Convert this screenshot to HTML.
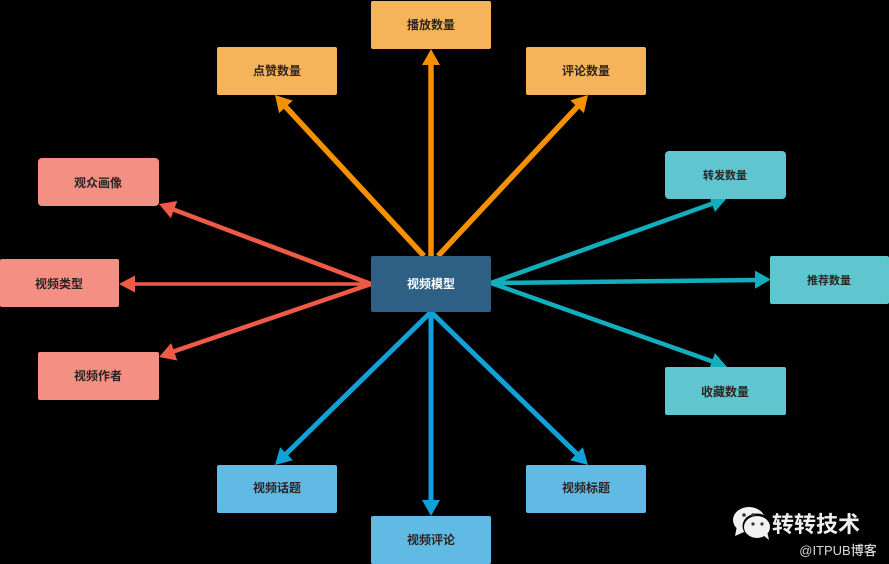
<!DOCTYPE html>
<html><head><meta charset="utf-8"><style>
html,body{margin:0;padding:0;background:#000;width:889px;height:564px;overflow:hidden}
svg{display:block;position:absolute;left:0;top:0;filter:blur(.35px)}
text{font-family:"Liberation Sans","Noto Sans CJK SC",sans-serif;text-anchor:middle;font-size:12px;fill:#2b2320;font-weight:700}
</style></head><body>
<svg width="889" height="564" viewBox="0 0 889 564" xmlns="http://www.w3.org/2000/svg">
<rect width="889" height="564" fill="#000"/>
<!-- orange -->
<g stroke="#f59000" stroke-width="5.5" fill="none">
<line x1="431" y1="256" x2="431" y2="60"/>
<line x1="424" y1="256" x2="284" y2="105"/>
<line x1="438" y1="256" x2="579" y2="105"/>
</g>
<g fill="#f59000">
<polygon points="431,49 440,65 422,65"/>
<polygon points="275,95 292.7,100.6 279.1,113.1"/>
<polygon points="588,95 583.9,113.1 570.3,100.4"/>
</g>
<!-- red -->
<g stroke="#ee5a48" fill="none">
<line x1="371" y1="284" x2="172" y2="209" stroke-width="4.5"/>
<line x1="371" y1="284" x2="132" y2="284" stroke-width="3.5"/>
<line x1="371" y1="284" x2="172" y2="352" stroke-width="4.5"/>
</g>
<g fill="#ee5a48">
<polygon points="159,204 177.3,201 170.8,218.3"/>
<polygon points="119,284 135,275.5 135,292.5"/>
<polygon points="159,357 177.2,360.5 171.2,343"/>
</g>
<!-- teal -->
<g stroke="#12aebd" stroke-width="4.5" fill="none">
<line x1="491" y1="283" x2="714" y2="203"/>
<line x1="491" y1="283" x2="758" y2="280"/>
<line x1="491" y1="283" x2="714" y2="362"/>
</g>
<g fill="#12aebd">
<polygon points="727,198 714.9,212 708.7,194.8"/>
<polygon points="771,279.5 755,270.7 755,288.7"/>
<polygon points="727,367 708.7,370.2 714.9,353"/>
</g>
<!-- blue -->
<g stroke="#12a0d8" stroke-width="5" fill="none">
<line x1="431" y1="312" x2="431" y2="503"/>
<line x1="431" y1="312" x2="285" y2="455"/>
<line x1="431" y1="312" x2="578" y2="455"/>
</g>
<g fill="#12a0d8">
<polygon points="431,516 422,500 440,500"/>
<polygon points="275,465 292.9,460.3 280.1,447.2"/>
<polygon points="588,465 582.9,447.2 570.1,460.3"/>
</g>
<!-- boxes -->
<g fill="#f5b45a">
<rect x="371" y="1" width="120" height="48" rx="2"/>
<rect x="217" y="47" width="120" height="48" rx="2"/>
<rect x="526" y="47" width="120" height="48" rx="2"/>
</g>
<g fill="#f48f84">
<rect x="38" y="158" width="121" height="48" rx="4"/>
<rect x="0" y="259" width="119" height="48" rx="2"/>
<rect x="38" y="352" width="121" height="48" rx="2"/>
</g>
<g fill="#5fc6cf">
<rect x="665" y="151" width="121" height="48" rx="4"/>
<rect x="770" y="256" width="119" height="48" rx="2"/>
<rect x="665" y="367" width="121" height="48" rx="2"/>
</g>
<g fill="#60bae3">
<rect x="217" y="465" width="120" height="48" rx="2"/>
<rect x="526" y="465" width="120" height="48" rx="2"/>
<rect x="371" y="516" width="120" height="48" rx="2"/>
</g>
<rect x="371" y="256" width="120" height="56" rx="2" fill="#2e5f85"/>
<!-- labels -->
<text x="431" y="29">播放数量</text>
<text x="277" y="75">点赞数量</text>
<text x="586" y="75">评论数量</text>
<text x="98" y="187">观众画像</text>
<text x="59" y="288">视频类型</text>
<text x="98" y="380">视频作者</text>
<text x="725" y="179" style="font-size:11px">转发数量</text>
<text x="829" y="284" style="font-size:11px">推荐数量</text>
<text x="725" y="396">收藏数量</text>
<text x="277" y="492">视频话题</text>
<text x="586" y="492">视频标题</text>
<text x="431" y="544">视频评论</text>
<text x="431" y="288" style="fill:#fff">视频模型</text>
<!-- watermark -->
<g fill="#f2f2f2">
<ellipse cx="749" cy="520" rx="16" ry="13"/>
<polygon points="737,526 735,536 746,531"/>
</g>
<ellipse cx="757" cy="526" rx="14.5" ry="12.5" fill="#000"/>
<ellipse cx="757" cy="527" rx="13" ry="11" fill="#f2f2f2"/>
<polygon points="763,535 769,540 767,531" fill="#f2f2f2"/>
<g fill="#333">
<circle cx="744" cy="515" r="1.8"/><circle cx="753" cy="515" r="1.8"/>
<circle cx="753" cy="524" r="1.6"/><circle cx="762" cy="524" r="1.6"/>
</g>
<text x="816" y="532" style="font-size:22px;fill:#efefef">转转技术</text>
<text x="838" y="555" style="font-size:13px;fill:#d8d8d8;font-weight:500">@ITPUB博客</text>
</svg>
</body></html>
